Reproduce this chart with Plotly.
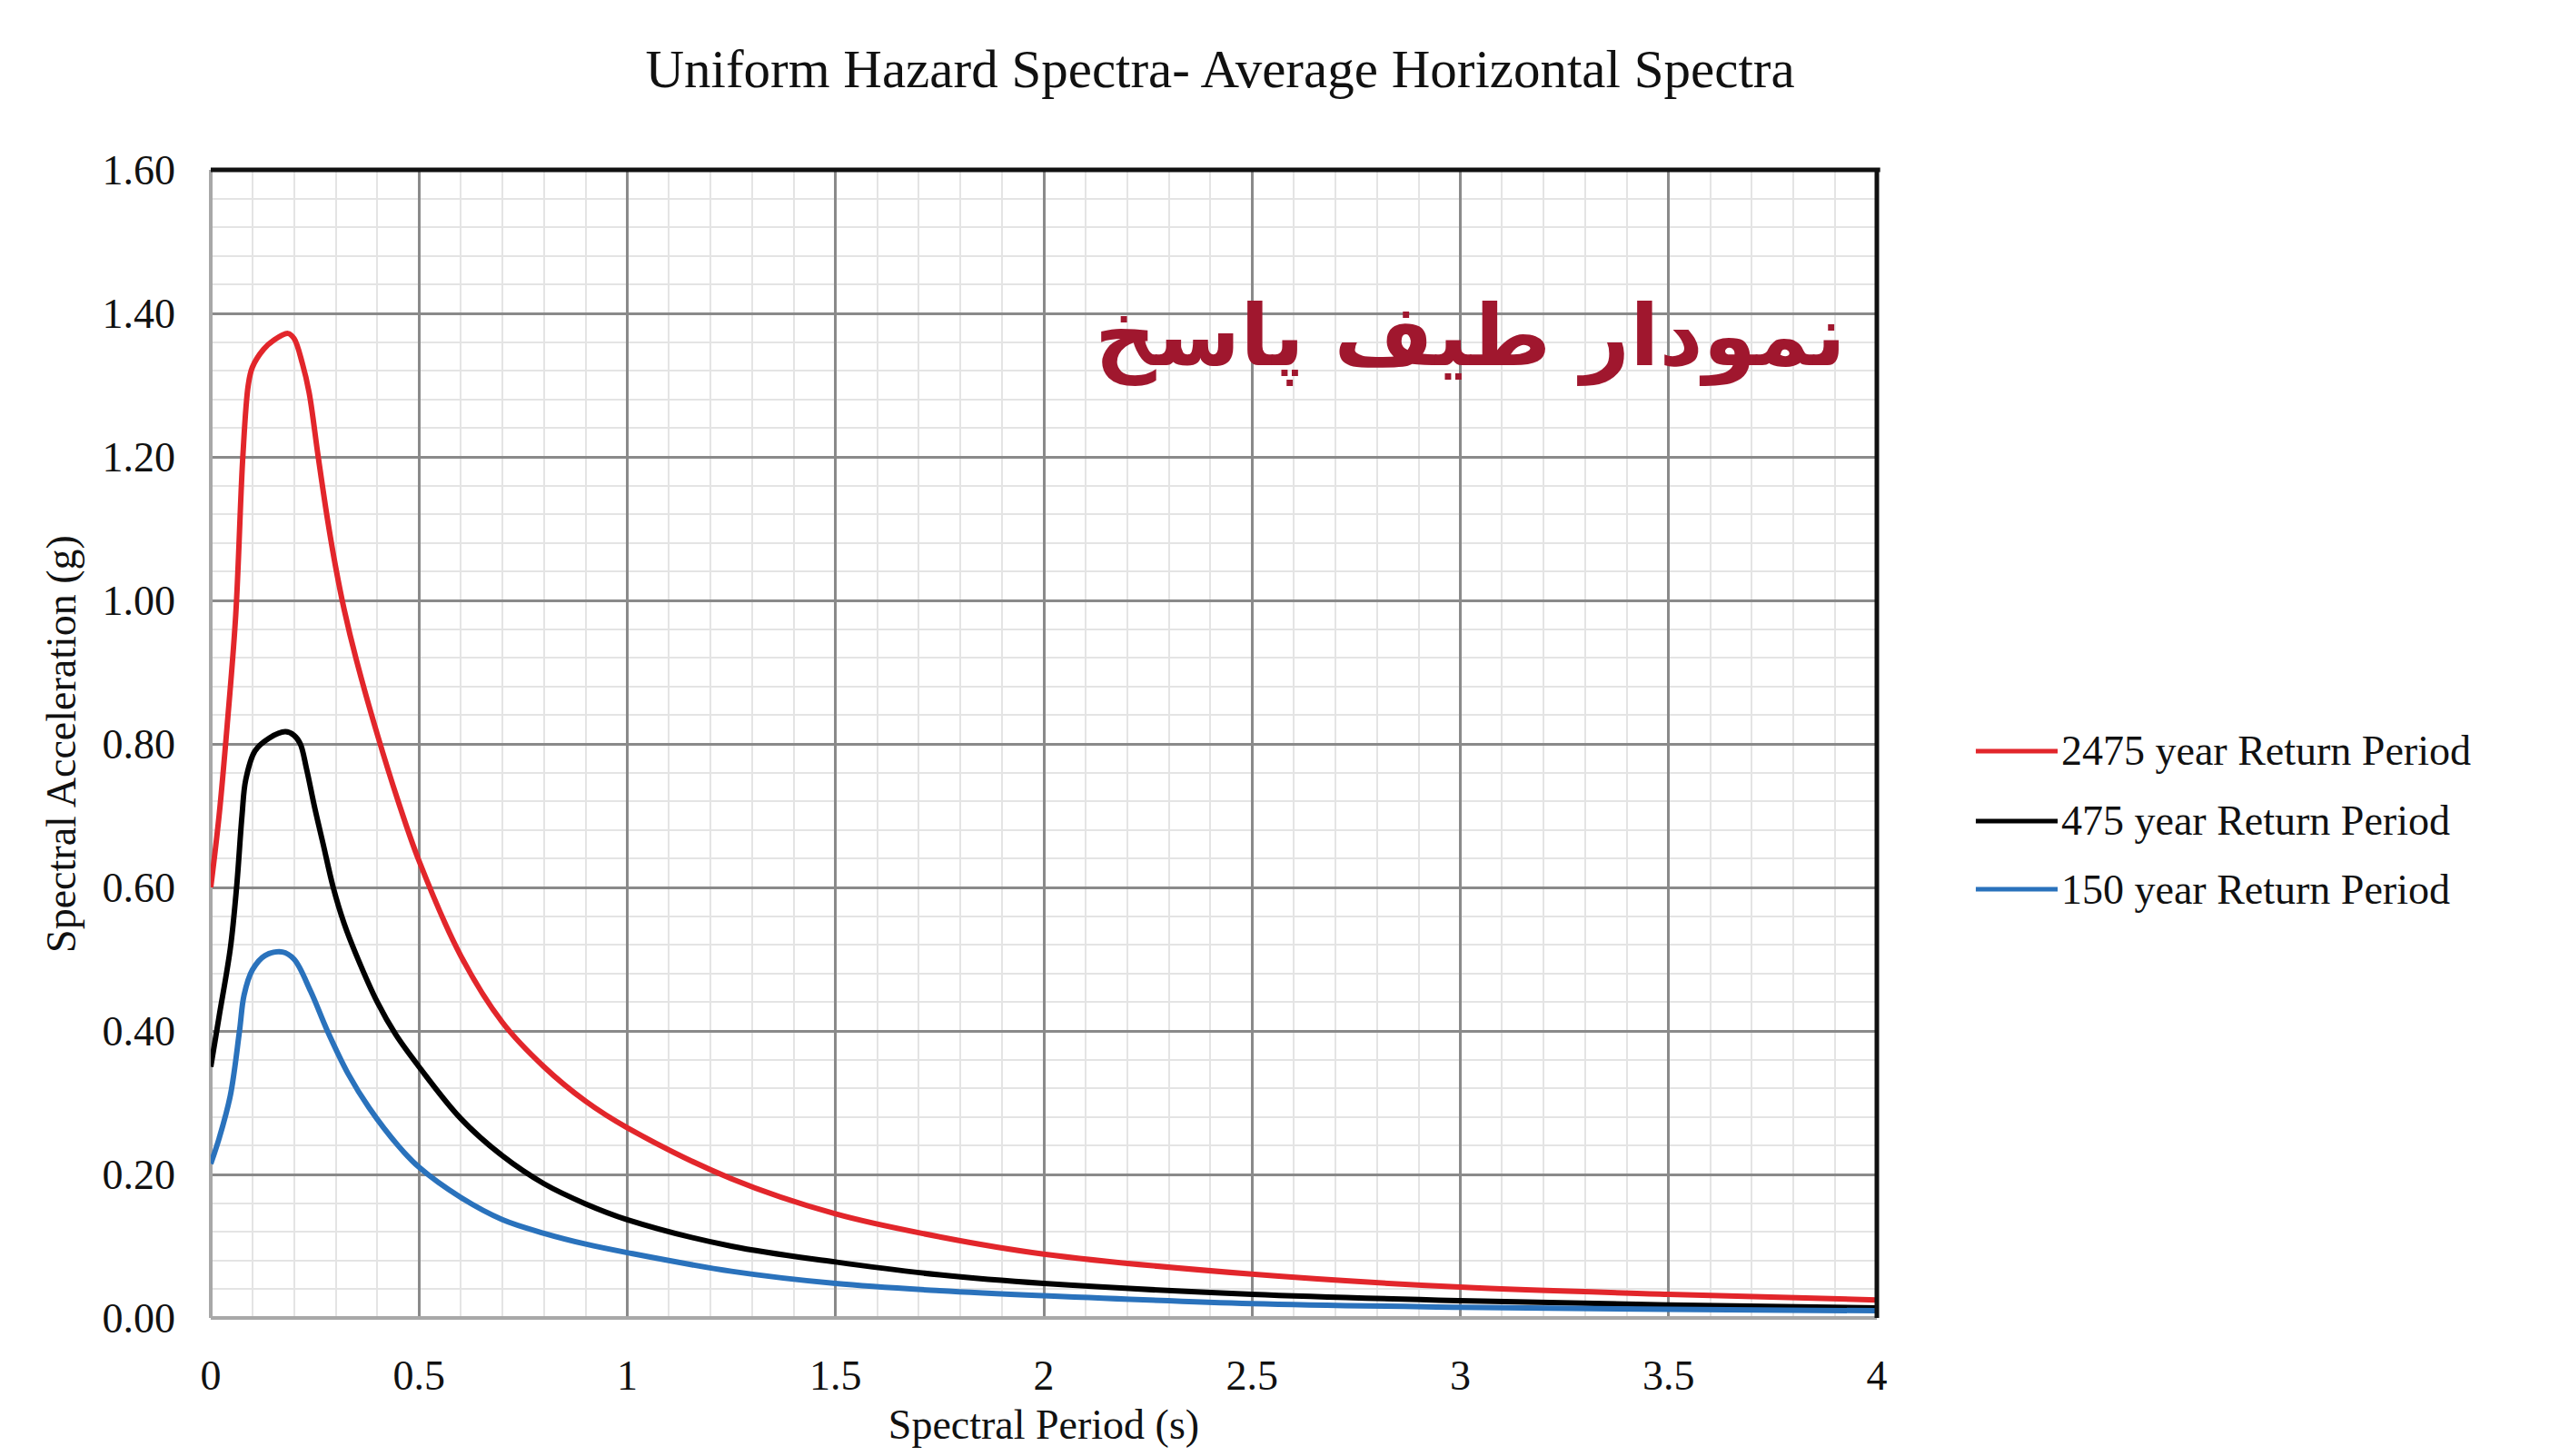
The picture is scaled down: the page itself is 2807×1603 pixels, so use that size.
import plotly.graph_objects as go

# ---------------- data ----------------
series_names = ["2475 year Return Period", "475 year Return Period", "150 year Return Period"]
series_colors = ["#E2262B", "#000000", "#2A72BC"]

t_2475 = [0, 0.02, 0.04, 0.06, 0.077, 0.09, 0.1, 0.127, 0.15, 0.185, 0.2, 0.22, 0.236, 0.258, 0.28,
          0.30, 0.32, 0.35, 0.40, 0.45, 0.5, 0.6, 0.7, 0.8, 0.9, 1.0, 1.25, 1.5, 1.75, 2.0, 2.5, 3.0, 3.5, 4.0]
sa_2475 = [0.60, 0.70, 0.83, 0.98, 1.20, 1.30, 1.325, 1.35, 1.362, 1.372, 1.365, 1.33, 1.29, 1.20, 1.114,
           1.046, 0.988, 0.916, 0.813, 0.72, 0.637, 0.505, 0.412, 0.350, 0.302, 0.265, 0.194, 0.145, 0.113, 0.089, 0.061, 0.043, 0.033, 0.025]

t_475 = [0, 0.02, 0.047, 0.062, 0.075, 0.084, 0.106, 0.14, 0.179, 0.2, 0.215, 0.23, 0.25, 0.27, 0.294,
         0.32, 0.35, 0.40, 0.444, 0.5, 0.6, 0.7, 0.8, 0.9, 1.0, 1.25, 1.5, 1.75, 2.0, 2.5, 3.0, 3.5, 4.0]
sa_475 = [0.35, 0.42, 0.515, 0.60, 0.70, 0.75, 0.79, 0.808, 0.817, 0.812, 0.80, 0.765, 0.71, 0.66, 0.60,
          0.55, 0.505, 0.44, 0.395, 0.35, 0.278, 0.226, 0.187, 0.159, 0.137, 0.10, 0.078, 0.06, 0.048, 0.033, 0.024, 0.018, 0.014]

t_150 = [0, 0.02, 0.047, 0.069, 0.08, 0.1, 0.13, 0.172, 0.2, 0.24, 0.28, 0.33, 0.38, 0.45, 0.5,
         0.6, 0.7, 0.8, 0.9, 1.0, 1.25, 1.5, 1.75, 2.0, 2.5, 3.0, 3.5, 4.0]
sa_150 = [0.215, 0.25, 0.31, 0.40, 0.45, 0.485, 0.505, 0.51, 0.50, 0.455, 0.40, 0.34, 0.293, 0.24, 0.21,
          0.168, 0.137, 0.118, 0.103, 0.091, 0.065, 0.048, 0.038, 0.031, 0.02, 0.015, 0.012, 0.01]

x_ticks = [0, 0.5, 1, 1.5, 2, 2.5, 3, 3.5, 4]
y_ticks = [0.0, 0.2, 0.4, 0.6, 0.8, 1.0, 1.2, 1.4, 1.6]

title_text = "Uniform Hazard Spectra- Average Horizontal Spectra"
x_title = "Spectral Period (s)"
y_title = "Spectral Acceleration (g)"
persian_text = "نمودار طیف پاسخ"

# ---------------- figure ----------------
SERIF = "Liberation Serif, Times New Roman, serif"
W, H = 2807, 1603
OFF = 8  # page body margin offset
L, R, T, B = 232 - OFF, W - (2066 - OFF), 187 - OFF, H - (1451 - OFF)
PW, PH = W - L - R, H - T - B

fig = go.Figure()
xs = [t_2475, t_475, t_150]
ys = [sa_2475, sa_475, sa_150]
for name, color, x, y in zip(series_names, series_colors, xs, ys):
    fig.add_trace(go.Scatter(x=x, y=y, mode="lines", name=name,
                             line=dict(color=color, width=6, shape="spline", smoothing=1.0),
                             showlegend=False))

grid_major = "#8A8A8A"
grid_minor = "#E4E4E4"

fig.update_xaxes(range=[0, 4], tickvals=x_ticks, showgrid=True, gridcolor=grid_major, gridwidth=3,
                 zeroline=True, zerolinecolor="#A8A8A8", zerolinewidth=4,
                 minor=dict(dtick=0.1, showgrid=True, gridcolor=grid_minor, gridwidth=2),
                 showline=False, ticks="", ticklabelstandoff=32,
                 tickfont=dict(family=SERIF, size=46, color="#111111"),
                 title=dict(text=x_title, font=dict(family=SERIF, size=46, color="#111111"), standoff=12))
fig.update_yaxes(range=[0, 1.6], tickvals=y_ticks, tickformat=".2f", showgrid=True, gridcolor=grid_major, gridwidth=3,
                 zeroline=True, zerolinecolor="#A8A8A8", zerolinewidth=4,
                 minor=dict(dtick=0.04, showgrid=True, gridcolor=grid_minor, gridwidth=2),
                 showline=False, ticks="", ticklabelstandoff=38,
                 tickfont=dict(family=SERIF, size=46, color="#111111"),
                 title=dict(text=y_title, font=dict(family=SERIF, size=46, color="#111111"), standoff=14))

# black border on top and right of plot area
fig.add_shape(type="line", xref="paper", yref="paper", x0=0, x1=1.002, y0=1, y1=1,
              line=dict(color="#111111", width=5), layer="above")
fig.add_shape(type="line", xref="paper", yref="paper", x0=1, x1=1, y0=0, y1=1,
              line=dict(color="#111111", width=5), layer="above")

# custom legend (long line samples as in reference)
legend_y = [0.4937, 0.4328, 0.3734]
for name, color, ly in zip(series_names, series_colors, legend_y):
    fig.add_shape(type="line", xref="paper", yref="paper", x0=1.0594, x1=1.1085, y0=ly, y1=ly,
                  line=dict(color=color, width=5))
    fig.add_annotation(xref="paper", yref="paper", x=1.1095, y=ly, text=name, showarrow=False,
                       xanchor="left", yanchor="middle",
                       font=dict(family=SERIF, size=46, color="#111111"))

# Persian overlay text
fig.add_annotation(xref="paper", yref="paper", x=(2034 - 232) / PW, y=(1451 - 370) / PH,
                   text="<b>" + persian_text + "</b>", showarrow=False, xanchor="right", yanchor="middle",
                   font=dict(family="DejaVu Sans, Noto Sans", size=94, color="#A0172E"))

fig.update_layout(
    width=W, height=H,
    margin=dict(l=L, r=R, t=T, b=B, autoexpand=False),
    paper_bgcolor="white", plot_bgcolor="white",
    title=dict(text=title_text, x=(1343 - OFF) / W, xanchor="center", y=1 - (75 - OFF) / H, yanchor="middle",
               font=dict(family=SERIF, size=59, color="#111111")),
)

fig.write_html("out.html")
